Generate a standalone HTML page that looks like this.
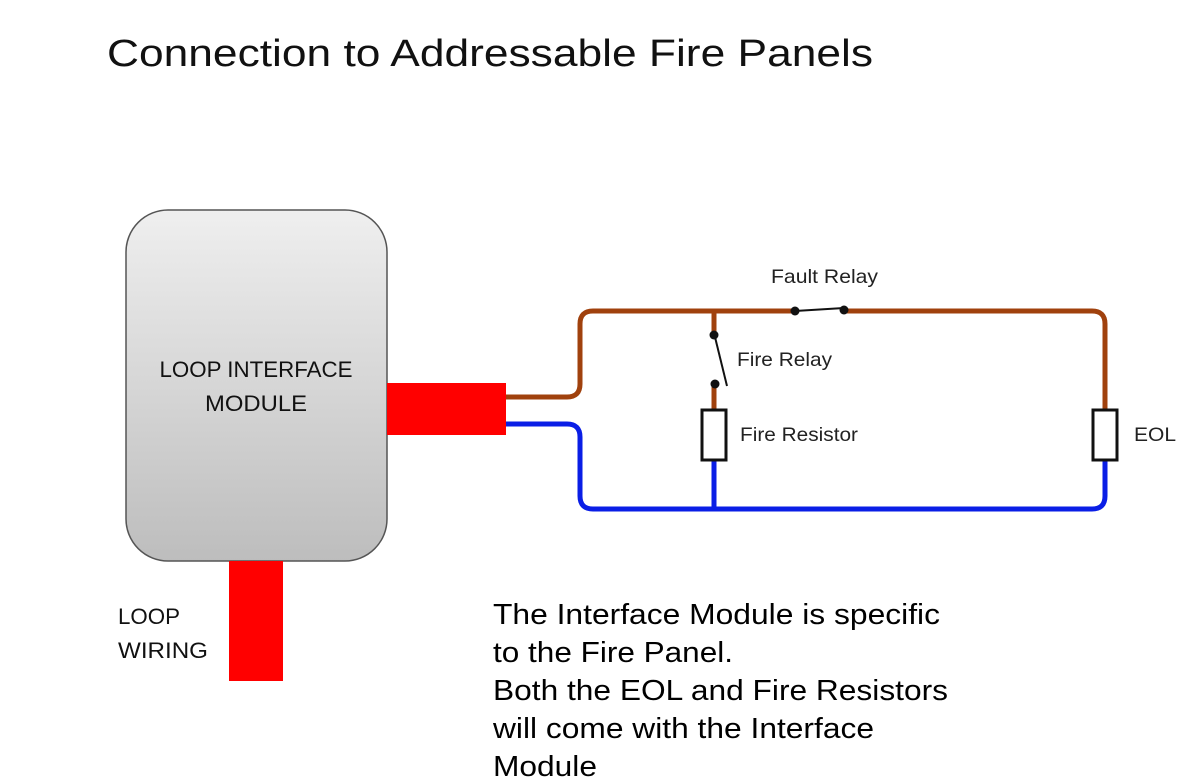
<!DOCTYPE html>
<html><head><style>
html,body{margin:0;padding:0;background:#fff;width:1200px;height:783px;overflow:hidden}
svg{display:block}
text{font-family:"Liberation Sans",sans-serif}
</style></head><body>
<svg width="1200" height="783" viewBox="0 0 1200 783" xmlns="http://www.w3.org/2000/svg">
<defs>
<linearGradient id="g" x1="0" y1="0" x2="0" y2="1">
<stop offset="0" stop-color="#efefef"/><stop offset="1" stop-color="#bdbdbd"/>
</linearGradient>
</defs>
<text x="107" y="66" font-size="38" fill="#111" textLength="766" lengthAdjust="spacingAndGlyphs">Connection to Addressable Fire Panels</text>

<rect x="126" y="210" width="261" height="351" rx="42" fill="url(#g)" stroke="#555" stroke-width="1.5"/>
<text x="256" y="377" font-size="22" fill="#111" text-anchor="middle" textLength="193" lengthAdjust="spacingAndGlyphs">LOOP INTERFACE</text>
<text x="256" y="411" font-size="22" fill="#111" text-anchor="middle" textLength="102" lengthAdjust="spacingAndGlyphs">MODULE</text>

<rect x="387" y="383" width="119" height="52" fill="#ff0000"/>
<rect x="229" y="561" width="54" height="120" fill="#ff0000"/>
<text x="118" y="624" font-size="22" fill="#111" textLength="62" lengthAdjust="spacingAndGlyphs">LOOP</text>
<text x="118" y="658" font-size="22" fill="#111" textLength="90" lengthAdjust="spacingAndGlyphs">WIRING</text>

<g fill="none" stroke-width="5" stroke-linejoin="round">
<path d="M506 397 H567 Q580 397 580 384 V324 Q580 311 593 311 H795 M844 311 H1092 Q1105 311 1105 324 V410" stroke="#a0410d"/>
<path d="M714 311 V333 M714 382 V410" stroke="#a0410d"/>
<path d="M506 424 H567 Q580 424 580 437 V496 Q580 509 593 509 H1092 Q1105 509 1105 496 V460" stroke="#0a1ee6"/>
<path d="M714 460 V509" stroke="#0a1ee6"/>
</g>
<g stroke="#111" stroke-width="2" fill="none">
<line x1="714" y1="333" x2="727" y2="386"/>
<line x1="795" y1="311" x2="844" y2="308"/>
</g>
<g fill="#111">
<circle cx="714" cy="335" r="4.5"/><circle cx="715" cy="384" r="4.5"/>
<circle cx="795" cy="311" r="4.5"/><circle cx="844" cy="310" r="4.5"/>
</g>
<rect x="702" y="410" width="24" height="50" fill="#fff" stroke="#111" stroke-width="3"/>
<rect x="1093" y="410" width="24" height="50" fill="#fff" stroke="#111" stroke-width="3"/>

<text x="771" y="283" font-size="19.5" fill="#222" textLength="107" lengthAdjust="spacingAndGlyphs">Fault Relay</text>
<text x="737" y="366" font-size="19.5" fill="#222" textLength="95" lengthAdjust="spacingAndGlyphs">Fire Relay</text>
<text x="740" y="441" font-size="19.5" fill="#222" textLength="118" lengthAdjust="spacingAndGlyphs">Fire Resistor</text>
<text x="1134" y="441" font-size="19.5" fill="#222" textLength="42" lengthAdjust="spacingAndGlyphs">EOL</text>

<g font-size="29" fill="#000">
<text x="493" y="624" textLength="447" lengthAdjust="spacingAndGlyphs">The Interface Module is specific</text>
<text x="493" y="662" textLength="240" lengthAdjust="spacingAndGlyphs">to the Fire Panel.</text>
<text x="493" y="700" textLength="455" lengthAdjust="spacingAndGlyphs">Both the EOL and Fire Resistors</text>
<text x="493" y="738" textLength="381" lengthAdjust="spacingAndGlyphs">will come with the Interface</text>
<text x="493" y="776" textLength="104" lengthAdjust="spacingAndGlyphs">Module</text>
</g>
</svg>
</body></html>
